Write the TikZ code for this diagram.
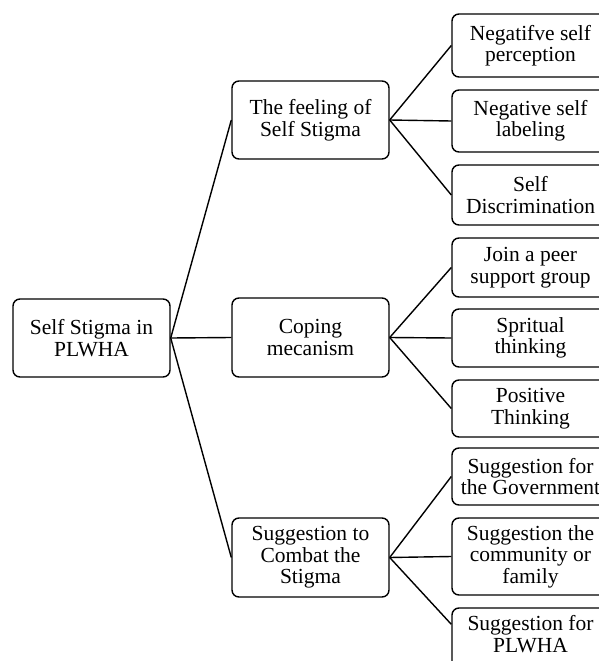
\documentclass[tikz,border=0pt]{standalone}
\usepackage{fontspec}
\setmainfont{Liberation Serif}
\usetikzlibrary{calc}
\begin{document}
\begin{tikzpicture}[x=1pt,y=-1pt,
  box/.style={draw, rounded corners=7pt, line width=1.4pt, align=center,
    font=\fontsize{21.5}{21.5}\selectfont, inner sep=0pt, minimum width=157pt},
  conn/.style={line width=1.4pt}]
\useasboundingbox (0,0) rectangle (599,661);
\clip (0,0) rectangle (599,661);
% root
\node[box,minimum height=78pt] (root) at (91.5,338) {Self Stigma in\\PLWHA};
% level 2
\node[box,minimum height=78pt] (feel) at (310.5,120) {The feeling of\\Self Stigma};
\node[box,minimum height=79pt] (cope) at (310.5,337.5) {Coping\\mecanism};
\node[box,minimum height=79pt] (comb) at (310.5,557.5) {Suggestion to\\Combat the\\Stigma};
% level 3
\node[box,minimum height=63pt] (b1) at (530.5,45.5) {Negatifve self\\perception};
\node[box,minimum height=62pt] (b2) at (530.5,121) {Negative self\\labeling};
\node[box,minimum height=60pt] (b3) at (530.5,195) {Self\\Discrimination};
\node[box,minimum height=59pt] (b4) at (530.5,267.5) {Join a peer\\support group};
\node[box,minimum height=58pt] (b5) at (530.5,338) {Spritual\\thinking};
\node[box,minimum height=57pt] (b6) at (530.5,408.5) {Positive\\Thinking};
\node[box,minimum height=57pt] (b7) at (530.5,476.5) {Suggestion for\\the Government};
\node[box,minimum height=77pt] (b8) at (530.5,556.5) {Suggestion the\\community or\\family};
\node[box,minimum height=80pt] (b9) at (530.5,648) {Suggestion for\\PLWHA\rule[-28pt]{0pt}{28pt}};
\coordinate (b9in) at ($(b9.north west)+(0,17)$);
% connectors
\draw[conn] (root.east) -- (feel.west);
\draw[conn] (root.east) -- (cope.west);
\draw[conn] (root.east) -- (comb.west);
\draw[conn] (feel.east) -- (b1.west);
\draw[conn] (feel.east) -- (b2.west);
\draw[conn] (feel.east) -- (b3.west);
\draw[conn] (cope.east) -- (b4.west);
\draw[conn] (cope.east) -- (b5.west);
\draw[conn] (cope.east) -- (b6.west);
\draw[conn] (comb.east) -- (b7.west);
\draw[conn] (comb.east) -- (b8.west);
\draw[conn] (comb.east) -- (b9in);
\end{tikzpicture}
\end{document}
